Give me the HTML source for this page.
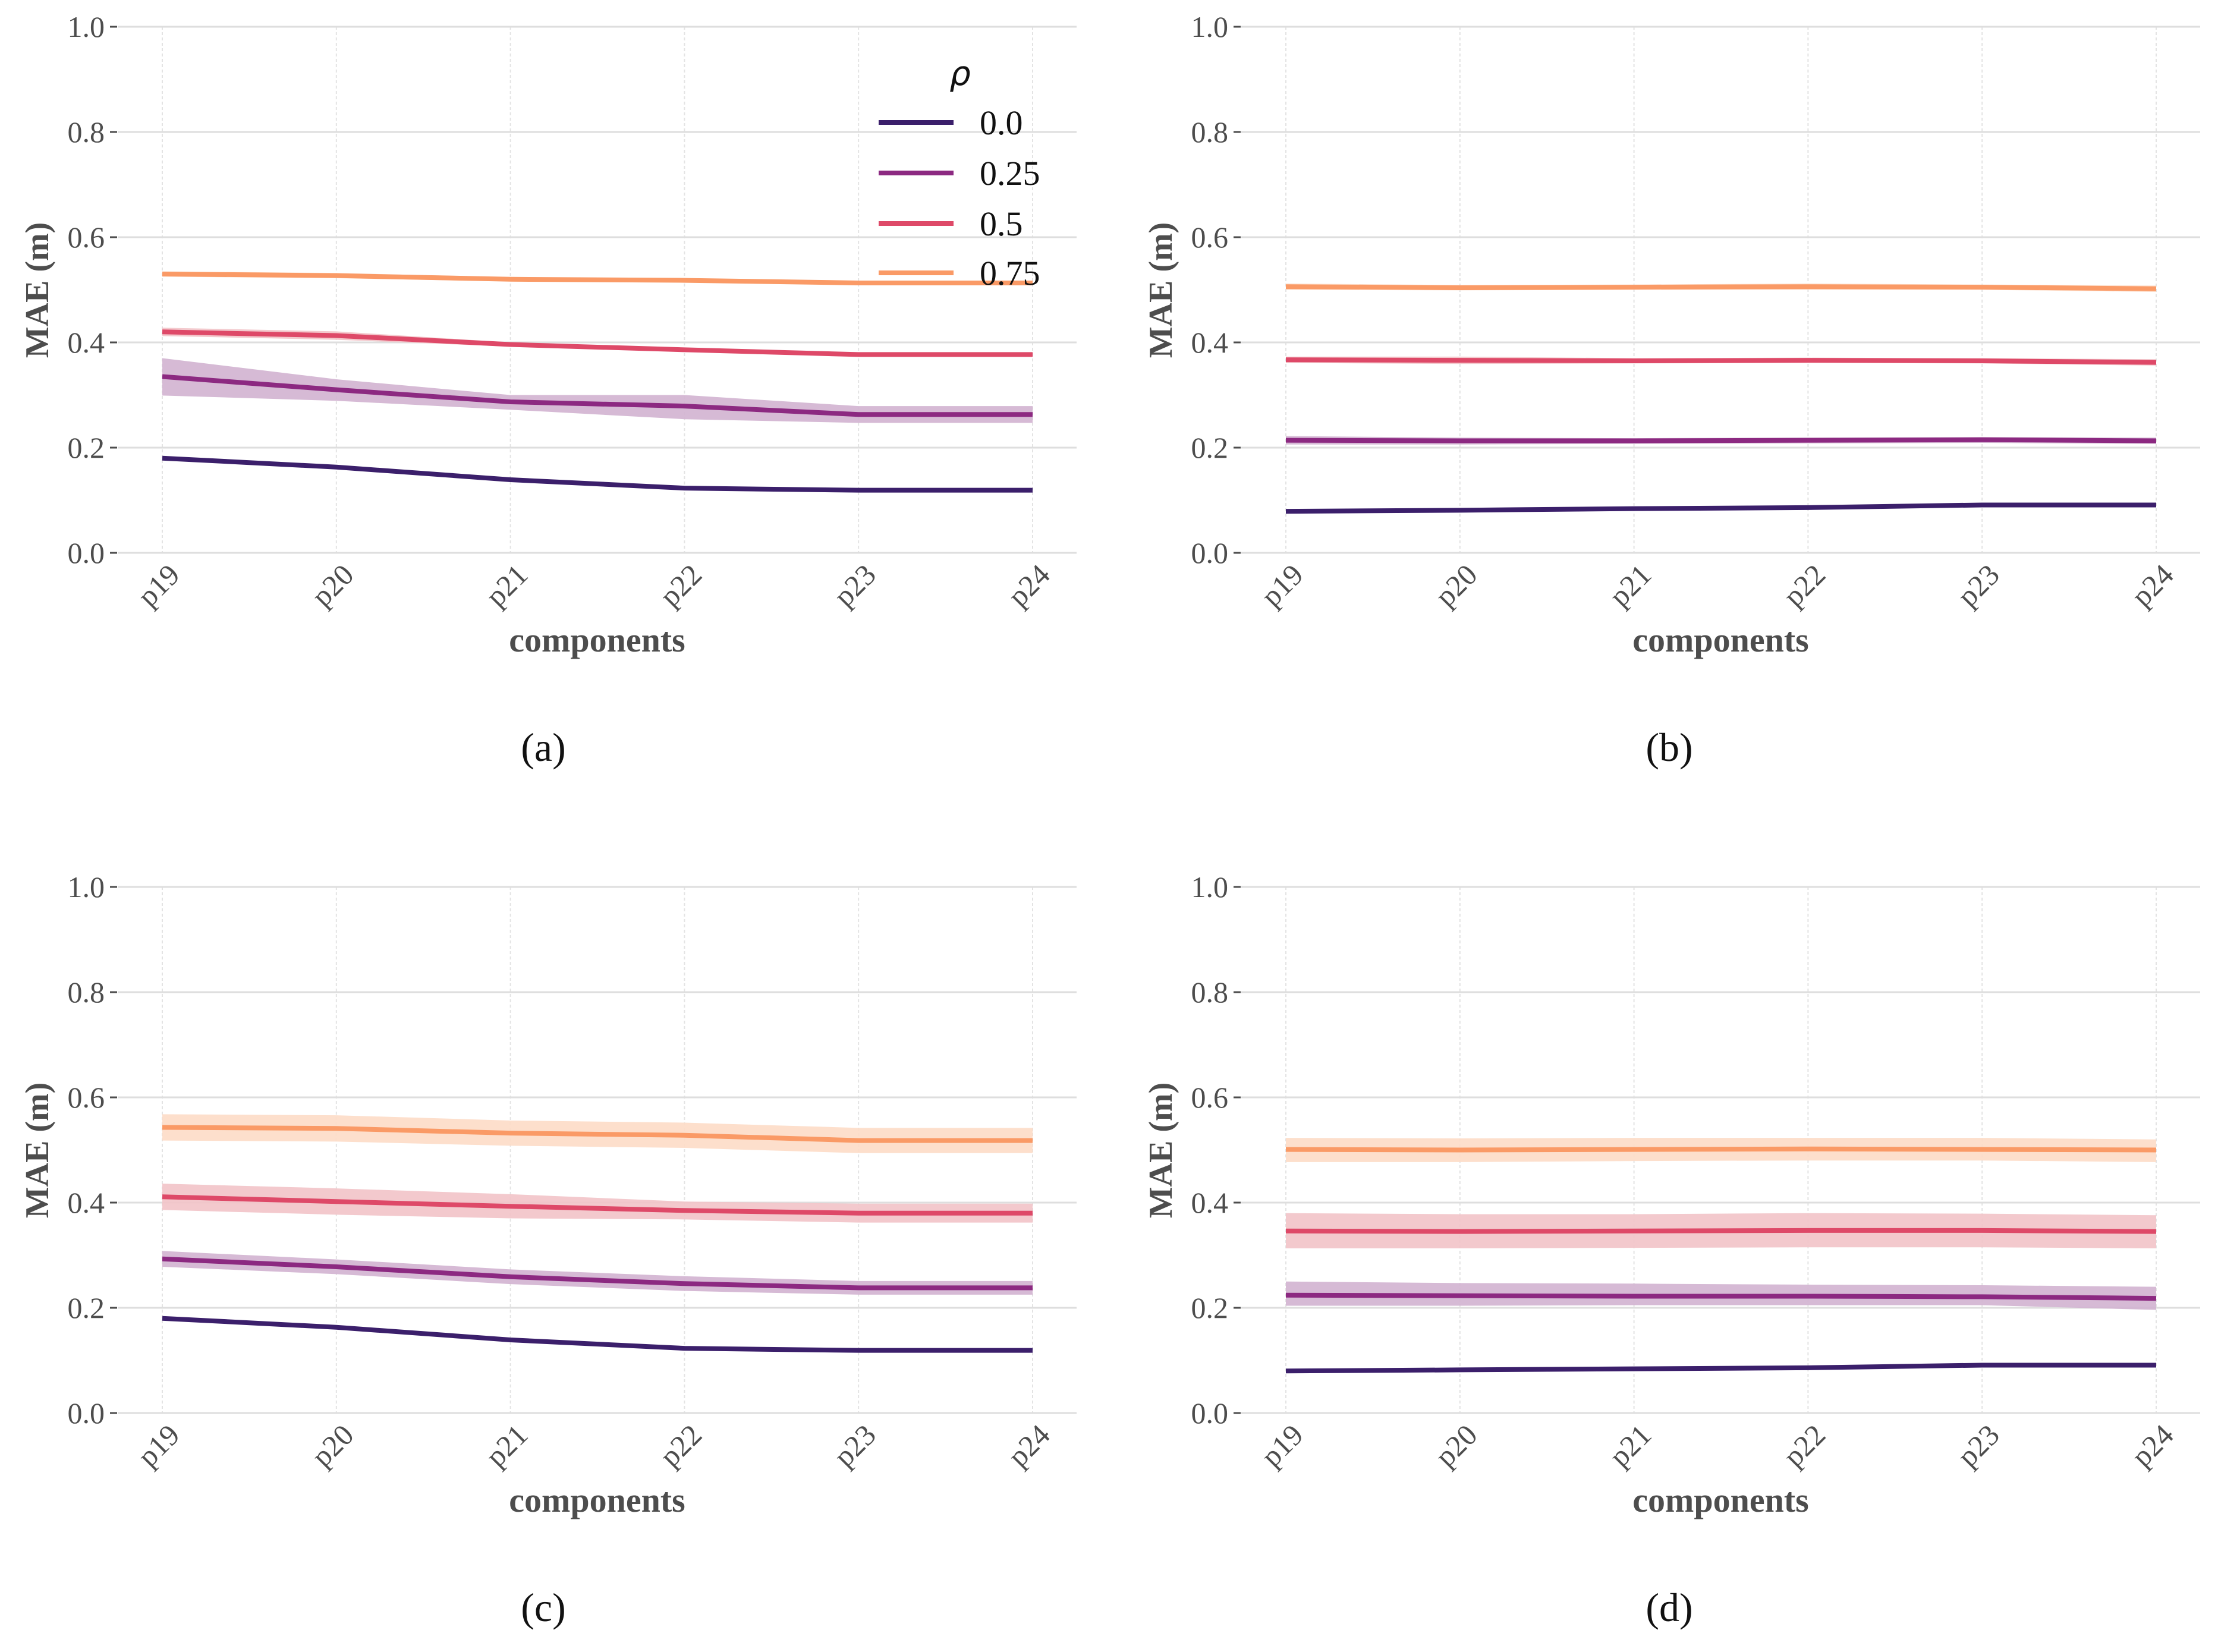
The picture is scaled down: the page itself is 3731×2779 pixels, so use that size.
<!DOCTYPE html>
<html><head><meta charset="utf-8"><style>
html,body{margin:0;padding:0;background:#fff}
svg{display:block}
</style></head><body>
<svg id="fig" xmlns="http://www.w3.org/2000/svg" width="3731" height="2779" viewBox="0 0 3731 2779"></svg>
<script>
const categories = ["p19","p20","p21","p22","p23","p24"];
const rhoLabels = ["0.0","0.25","0.5","0.75"];
const yTicks = [0,0.2,0.4,0.6,0.8,1.0];
const yTickLabels = ["0.0","0.2","0.4","0.6","0.8","1.0"];

// panel a
const a_rho0 = [0.180,0.163,0.139,0.123,0.119,0.119];
const a_rho25 = [0.335,0.310,0.287,0.279,0.263,0.263];
const a_rho25_hi = [0.370,0.330,0.300,0.300,0.279,0.279];
const a_rho25_lo = [0.299,0.289,0.272,0.254,0.247,0.247];
const a_rho5 = [0.420,0.413,0.396,0.386,0.377,0.377];
const a_rho5_hi = [0.428,0.421,0.400,0.389,0.379,0.379];
const a_rho5_lo = [0.412,0.405,0.392,0.383,0.375,0.375];
const a_rho75 = [0.530,0.527,0.520,0.518,0.513,0.513];
const a_rho75_hi = [0.535,0.532,0.524,0.521,0.516,0.516];
const a_rho75_lo = [0.525,0.522,0.516,0.515,0.510,0.510];
// panel b
const b_rho0 = [0.079,0.081,0.084,0.086,0.091,0.091];
const b_rho25 = [0.214,0.213,0.213,0.214,0.215,0.213];
const b_rho25_hi = [0.222,0.219,0.218,0.219,0.220,0.219];
const b_rho25_lo = [0.206,0.206,0.207,0.208,0.209,0.207];
const b_rho5 = [0.367,0.366,0.365,0.366,0.365,0.362];
const b_rho5_hi = [0.373,0.373,0.370,0.371,0.370,0.368];
const b_rho5_lo = [0.361,0.359,0.360,0.361,0.360,0.356];
const b_rho75 = [0.506,0.504,0.505,0.506,0.505,0.502];
const b_rho75_hi = [0.512,0.509,0.510,0.512,0.510,0.508];
const b_rho75_lo = [0.500,0.499,0.500,0.500,0.500,0.496];
// panel c
const c_rho0 = [0.180,0.163,0.139,0.123,0.119,0.119];
const c_rho25 = [0.293,0.278,0.259,0.246,0.238,0.238];
const c_rho25_hi = [0.308,0.292,0.273,0.260,0.251,0.251];
const c_rho25_lo = [0.278,0.264,0.245,0.232,0.225,0.225];
const c_rho5 = [0.411,0.402,0.393,0.385,0.380,0.380];
const c_rho5_hi = [0.436,0.427,0.416,0.402,0.398,0.398];
const c_rho5_lo = [0.386,0.377,0.370,0.368,0.362,0.362];
const c_rho75 = [0.543,0.541,0.532,0.528,0.518,0.518];
const c_rho75_hi = [0.568,0.566,0.556,0.552,0.542,0.542];
const c_rho75_lo = [0.518,0.516,0.508,0.504,0.494,0.494];
// panel d
const d_rho0 = [0.080,0.082,0.084,0.086,0.091,0.091];
const d_rho25 = [0.224,0.223,0.222,0.222,0.221,0.218];
const d_rho25_hi = [0.250,0.247,0.246,0.244,0.243,0.240];
const d_rho25_lo = [0.204,0.204,0.205,0.205,0.205,0.196];
const d_rho5 = [0.346,0.345,0.346,0.347,0.347,0.345];
const d_rho5_hi = [0.380,0.378,0.378,0.380,0.379,0.376];
const d_rho5_lo = [0.313,0.313,0.314,0.315,0.315,0.313];
const d_rho75 = [0.501,0.500,0.501,0.502,0.501,0.500];
const d_rho75_hi = [0.523,0.522,0.523,0.523,0.523,0.520];
const d_rho75_lo = [0.477,0.477,0.479,0.480,0.480,0.477];

const lineColors = ["#3b1f6b","#8c2981","#de4968","#fa9a66"];
const bandColors = ["#b8a8d0","#d2b3d0","#f2c3c8","#fddcc6"];
const NS = "http://www.w3.org/2000/svg";
const svg = document.getElementById("fig");
function el(tag, attrs, parent){
  const e = document.createElementNS(NS, tag);
  for (const k in attrs) e.setAttribute(k, attrs[k]);
  (parent||svg).appendChild(e);
  return e;
}
const FONT = '"Liberation Serif", serif';

function drawPanel(id, cap, ox, oy, series){
  const x0 = ox+278, x1 = ox+1742, gl = ox+203, gr = ox+1816;
  const yTop = oy+43, yBot = oy+928;
  const xs = i => x0 + (x1-x0)*i/(categories.length-1);
  const ys = v => yBot - (yBot-yTop)*v;
  const g = el("g", {});
  
  
  categories.forEach((c,i)=>{
    const l = el("line",{x1:xs(i),x2:xs(i),y1:yTop,y2:yBot,stroke:"#e3e3e3","stroke-width":2,"stroke-dasharray":"5,4"},g);
    
    
  });
  yTicks.forEach((t,i)=>{
    const l = el("line",{x1:gl,x2:gr,y1:ys(t),y2:ys(t),stroke:"#dedede","stroke-width":3},g);
    
    
    const tk = el("line",{x1:gl-13,x2:gl-1,y1:ys(t),y2:ys(t),stroke:"#4d4d4d","stroke-width":3},g);
    
    
    const tx = el("text",{x:gl-22,y:ys(t)+17,"text-anchor":"end","font-family":FONT,"font-size":50,fill:"#4d4d4d"},g);
    tx.textContent = yTickLabels[i];
    
    
  });
  categories.forEach((c,i)=>{
    const tx = el("text",{x:xs(i)+32,y:yBot+40,"text-anchor":"end","font-family":FONT,"font-size":50,fill:"#4d4d4d",transform:`rotate(-45 ${xs(i)+32} ${yBot+40})`},g);
    tx.textContent = c;
    
    
  });
  series.forEach((s,k)=>{
    if (s.hi){
      let d = "M" + s.hi.map((v,i)=>xs(i)+","+ys(v)).join(" L");
      d += " L" + s.lo.map((v,i)=>xs(i)+","+ys(v)).reverse().join(" L") + " Z";
      const b = el("path",{d:d,fill:bandColors[k],"fill-opacity":0.9},g);
      
      
    }
  });
  series.forEach((s,k)=>{
    const p = el("polyline",{points:s.v.map((v,i)=>xs(i)+","+ys(v)).join(" "),fill:"none",stroke:lineColors[k],"stroke-width":8,"stroke-linejoin":"round"},g);
    
    
  });
  const yl = el("text",{x:0,y:0,"text-anchor":"middle","font-family":FONT,"font-size":56,"font-weight":"bold",fill:"#4d4d4d",transform:`translate(${ox+86} ${oy+486}) rotate(-90)`},g);
  yl.textContent = "MAE (m)";
  
  
  const xl = el("text",{x:(gl+gr)/2,y:oy+1094,"text-anchor":"middle","font-family":FONT,"font-size":58,"font-weight":"bold",fill:"#4d4d4d"},g);
  xl.textContent = "components";
  
  
  const cp = el("text",{x:ox+919+(id==="a"||id==="c"?0:4),y:oy+1278,"text-anchor":"middle","font-family":FONT,"font-size":68,fill:"#111"},g);
  cp.textContent = cap;
  
  
}

drawPanel("a","(a)",-5,2,[
  {v:a_rho0},
  {v:a_rho25,hi:a_rho25_hi,lo:a_rho25_lo},
  {v:a_rho5,hi:a_rho5_hi,lo:a_rho5_lo},
  {v:a_rho75,hi:a_rho75_hi,lo:a_rho75_lo}]);
drawPanel("b","(b)",1885,2,[
  {v:b_rho0},
  {v:b_rho25,hi:b_rho25_hi,lo:b_rho25_lo},
  {v:b_rho5,hi:b_rho5_hi,lo:b_rho5_lo},
  {v:b_rho75,hi:b_rho75_hi,lo:b_rho75_lo}]);
drawPanel("c","(c)",-5,1449,[
  {v:c_rho0},
  {v:c_rho25,hi:c_rho25_hi,lo:c_rho25_lo},
  {v:c_rho5,hi:c_rho5_hi,lo:c_rho5_lo},
  {v:c_rho75,hi:c_rho75_hi,lo:c_rho75_lo}]);
drawPanel("d","(d)",1885,1449,[
  {v:d_rho0},
  {v:d_rho25,hi:d_rho25_hi,lo:d_rho25_lo},
  {v:d_rho5,hi:d_rho5_hi,lo:d_rho5_lo},
  {v:d_rho75,hi:d_rho75_hi,lo:d_rho75_lo}]);

const lg = el("g",{});


const lt = el("text",{x:1615,y:143,"text-anchor":"middle","font-family":'"DejaVu Sans", sans-serif',"font-style":"italic","font-size":56,fill:"#111"},lg);
lt.textContent = "ρ";


const legendY = [206,291,376,459];
rhoLabels.forEach((r,k)=>{
  const ln = el("line",{x1:1478,x2:1604,y1:legendY[k],y2:legendY[k],stroke:lineColors[k],"stroke-width":8},lg);
  
  
  const t = el("text",{x:1648,y:legendY[k]+20,"font-family":FONT,"font-size":58,fill:"#111"},lg);
  t.textContent = r;
  
  
});
</script>
</body></html>
